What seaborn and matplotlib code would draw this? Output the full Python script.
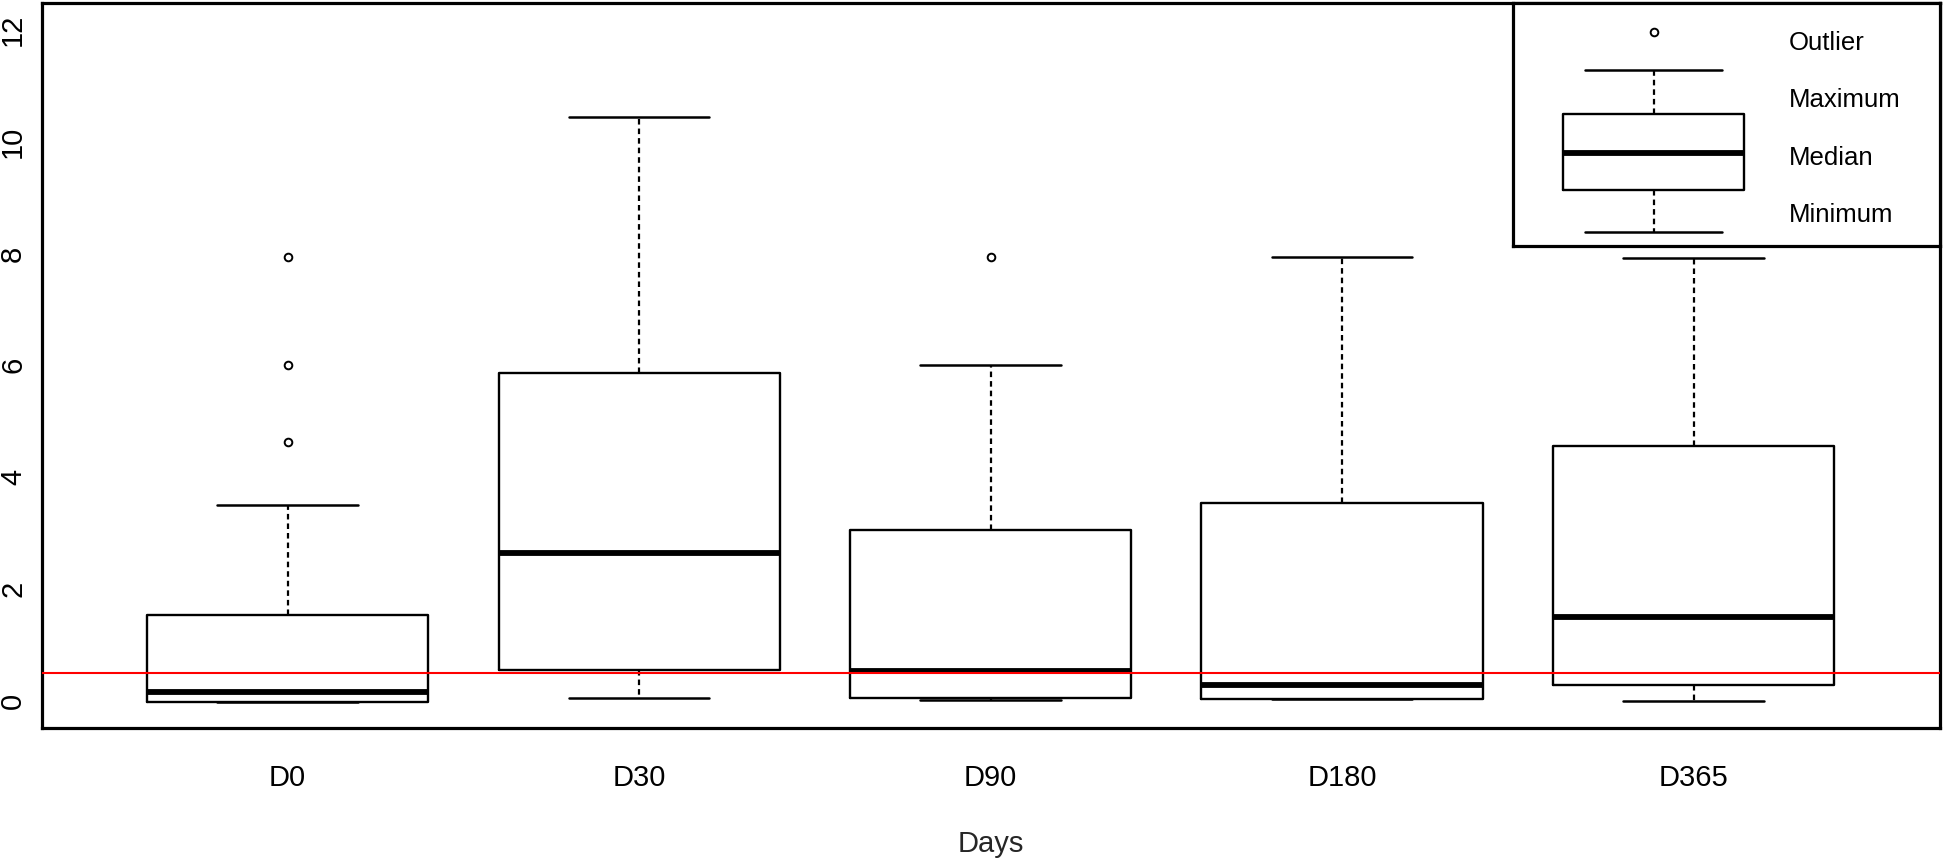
import matplotlib
matplotlib.use('Agg')
import matplotlib.pyplot as plt
import seaborn as sns

# ------------------------ Data ------------------------
days = ['D0', 'D30', 'D90', 'D180', 'D365']
q1 = [-0.02, 0.55, 0.05, 0.03, 0.28]
medians = [0.15, 2.65, 0.53, 0.29, 1.49]
q3 = [1.54, 5.87, 3.05, 3.53, 4.55]
whisker_low = [-0.02, 0.05, 0.01, 0.03, 0.0]
whisker_high = [3.51, 10.44, 6.0, 7.93, 7.91]
outliers = [[4.63, 6.0, 7.94], [], [7.94], [], []]
threshold = 0.5

legend_labels = ['Outlier', 'Maximum', 'Median', 'Minimum']

# ------------------------ Styling Setup ------------------------
sns.set_theme(style='white')
plt.rcParams['font.family'] = ['Liberation Sans', 'DejaVu Sans']
plt.rcParams.update({
    'axes.edgecolor': 'black',
    'axes.linewidth': 2.3,
    'xtick.color': 'black',
    'ytick.color': 'black',
})

box_style = dict(
    widths=0.8,
    capwidths=0.4,
    patch_artist=False,
    boxprops=dict(color='black', linewidth=1.7),
    medianprops=dict(color='black', linewidth=4.2),
    whiskerprops=dict(color='black', linewidth=1.6, linestyle=(0, (2.5, 1.8))),
    capprops=dict(color='black', linewidth=1.8),
    flierprops=dict(marker='o', markerfacecolor='none', markeredgecolor='black',
                    markersize=5.5, markeredgewidth=1.4),
)

fig = plt.figure(figsize=(19.44, 8.59), dpi=100)
ax = fig.add_axes([0.0214, 0.1529, 0.9763, 0.8437])

stats = []
for i, d in enumerate(days):
    stats.append(dict(label=d, q1=q1[i], med=medians[i], q3=q3[i],
                      whislo=whisker_low[i], whishi=whisker_high[i],
                      fliers=outliers[i]))

ax.bxp(stats, positions=range(1, len(days) + 1), **box_style)
ax.axhline(threshold, color='red', linewidth=1.5, zorder=6)

ax.set_xlim(0.3, 5.7)
ax.set_ylim(-0.48, 12.48)
ax.set_yticks(range(0, 13, 2))
ax.set_xticks(range(1, len(days) + 1))
ax.set_xticklabels(days)
ax.tick_params(axis='both', labelsize=21, length=7.5, width=2.2, direction='out')
ax.tick_params(axis='x', pad=19)
ax.tick_params(axis='y', pad=3)
for lab in ax.get_yticklabels():
    lab.set_rotation(90)
    lab.set_va('center')
ax.set_xlabel('Days', fontsize=21, labelpad=27)
ax.set_ylabel('')
for s in ax.spines.values():
    s.set_visible(True)
    s.set_color('black')
    s.set_linewidth(2.3)

# ------------------------ Key box ------------------------
leg = ax.inset_axes([0.7751, 0.6647, 0.2249, 0.3353])
leg.set_facecolor('white')
leg.set_zorder(10)
key_stats = [dict(label='', q1=0.230, med=0.383, q3=0.543,
                  whislo=0.058, whishi=0.724, fliers=[0.881])]
key_style = dict(box_style)
key_style.update(widths=0.425, capwidths=0.319)
leg.bxp(key_stats, positions=[0.33], **key_style)
leg.set_xlim(0, 1)
leg.set_ylim(0, 1)
leg.set_xticks([])
leg.set_yticks([])
for s in leg.spines.values():
    s.set_color('black')
    s.set_linewidth(2.3)
for lab, y in zip(legend_labels, [0.835, 0.601, 0.362, 0.128]):
    leg.text(0.647, y, lab, fontsize=18.5, va='center', ha='left', color='black')

fig.savefig('out.png', dpi=100)
